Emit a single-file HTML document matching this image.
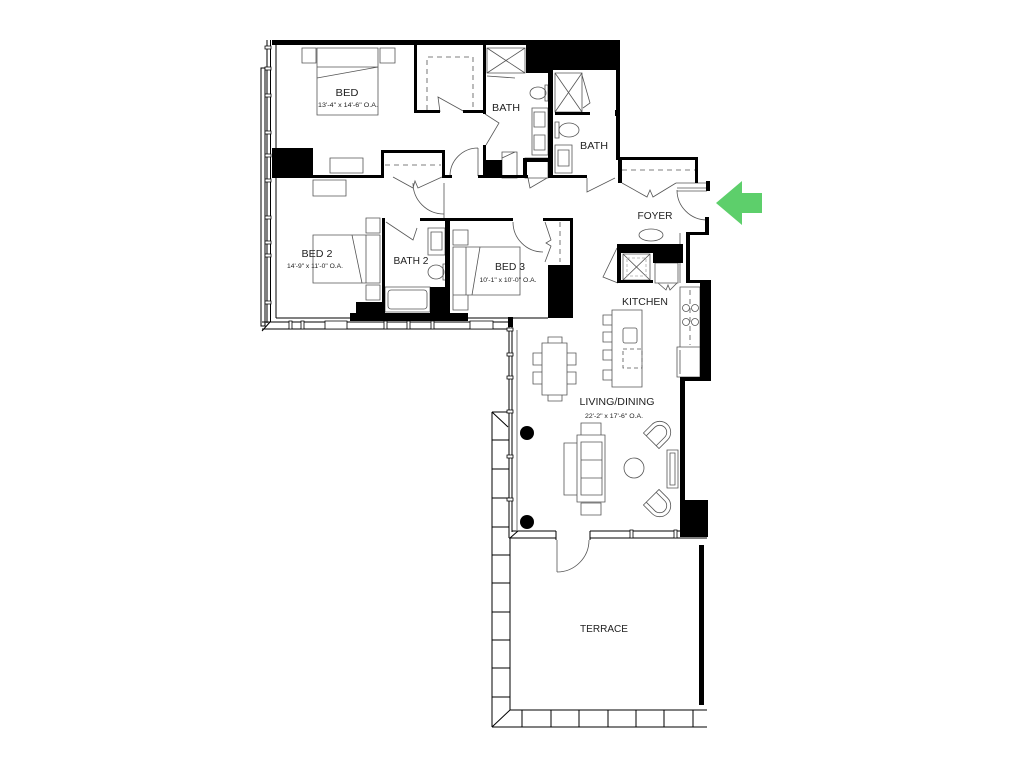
<!DOCTYPE html>
<html><head><meta charset="utf-8"><style>
html,body{margin:0;padding:0;background:#fff;}
svg{display:block;}
text{font-family:"Liberation Sans",sans-serif;fill:#222;text-anchor:middle;}
.l{font-size:10px;}
.d{font-size:6.5px;}
</style></head><body>
<svg width="1024" height="768" viewBox="0 0 1024 768" xmlns="http://www.w3.org/2000/svg">
<rect width="1024" height="768" fill="#fff"/>

<!-- furniture and fixtures -->
<g fill="none" stroke="#555" stroke-width="0.8">
<path d="M302 48h14v15h-14z M380 48h15v15h-15z M317 48h61v67h-61z M317 67h61 M317 78L378 67 M330 158h33v15h-33z
M313 180h33v16h-33z M313 235h67v48h-67z M366 218h14v15h-14z M366 285h14v15h-14z M352 235L362 283 M366 235v48
M453 247h67v48h-67z M453 230h15v15h-15z M453 295h15v15h-15z M480 247L472 295 M466 247v48"/>
<path d="M487 48h38v25h-38z M487 48L525 73 M525 48L487 73 M487 76L515 78 M545 85h3v16h-3z M532 108h16v47h-16z
M534 112h11v15h-11z M534 135h11v15h-11z M502 152h15v26h-15z M502 158L515 152 M525 158h23v20h-23z
M555 73h27v39h-27z M555 73L582 112 M582 73L555 112 M582 75L590 103L583 108 M555 122h4v16h-4z
M555 145h17v28h-17z M558 150h11v16h-11z M428 228h17v27h-17z M431 232h11v18h-11z M443 264h3v16h-3z
M385 287h45v25h-45z"/>
<ellipse cx="538" cy="93" rx="8" ry="6"/>
<ellipse cx="569" cy="130" rx="10" ry="7"/>
<ellipse cx="436" cy="272" rx="8" ry="7"/>
<rect x="388" y="290" width="39" height="19" rx="3"/>
<path stroke="#aaa" stroke-width="1.6" stroke-dasharray="5,4" d="M427 110V57H473V110 M385 165h56 M622 170h73 M560 222v40 M690 290v55"/>
<!-- doors -->
<path d="M478 148A28 28 0 0 0 450 176 M478 148v28 M413 183A31 31 0 0 0 444 214 M444 183v35
M513 222A30 30 0 0 0 543 252 M677 190A30 30 0 0 0 707 220 M677 188h30 M677 191h30 M676 183h31
M557 572A32 32 0 0 0 589 540 M557 540v32
M485 114L499 123L486 145 M440 112L438 97L465 112 M587 178v14L615 178 M528 178L530 188L547 178
M622 183L647 197L650 190L653 197L676 183 M393 177L413 188L415 181L418 188L442 177
M386 222L413 240L417 228 M545 222L551 240L546 243L551 246L545 262 M617 248L603 277L618 283
M658 283L666 290L668 285L670 290L677 283"/>
<!-- kitchen -->
<path d="M623 254h27v26h-27z M623 254L650 280 M650 254L623 280 M655 263h23v20h-23z M680 233v50
M680 287h20v60h-20z M677 347h23v30h-23z M680 350v24"/>
<rect x="627" y="258" width="19" height="18" stroke="#aaa" stroke-dasharray="3,2"/>
<circle cx="686" cy="308" r="3.5"/><circle cx="695" cy="308" r="3.5"/>
<circle cx="686" cy="322" r="3.5"/><circle cx="695" cy="322" r="3.5"/>
<ellipse cx="651" cy="235" rx="12" ry="6"/>
<path d="M612 310h30v77h-30z M603 315h9v10h-9z M603 332h9v10h-9z M603 350h9v10h-9z M603 370h9v10h-9z"/>
<rect x="623" y="328" width="14" height="15" rx="2"/>
<rect x="623" y="349" width="19" height="19" stroke-dasharray="4,3"/>
<!-- dining / living -->
<path d="M542 343h25v52h-25z M548 337h14v6h-14z M548 395h14v6h-14z M533 353h9v12h-9z M533 372h9v12h-9z
M567 353h9v12h-9z M567 372h9v12h-9z"/>
<path d="M564 443h13v52h-13z M577 435h28v67h-28z M581 442h21v53h-21z M581 460h21 M581 478h21
M581 423h20v12h-20z M581 503h20v12h-20z M667 450h11v38h-11z M670 453h5v32h-5z"/>
<circle cx="634" cy="468" r="10"/>
<g transform="translate(659,433) rotate(45)"><path d="M-11 11V-1A11 11 0 0 1 11 -1V11Z M-7 11V-1A7 7 0 0 1 7 -1V11"/></g>
<g transform="translate(659,505) rotate(135)"><path d="M-11 11V-1A11 11 0 0 1 11 -1V11Z M-7 11V-1A7 7 0 0 1 7 -1V11"/></g>
</g>

<!-- thin walls, windows, rails -->
<path fill="none" stroke="#000" stroke-width="1" d="M267 40V323 M270.5 40V322 M276 45V318 M261 68h4v258h-4z
M276 318H350 M262 322H512 M262 329H512 M262 331L270 322 M468 318H548
M509 322V538 M512 322V532 M492 412V727 M492 412H509 M492 412L508 427 M510 538V710
M510 710H707 M492 727H707 M492 727L510 710
M512 531H556 M509 538H556 M590 531H680 M590 538H707 M510 538L518 531 M556 531v9 M590 531v9
M492 440h17 M492 469h17 M492 498h17 M492 527h17 M492 555h18 M492 583h18 M492 612h18 M492 640h18 M492 668h18 M492 697h18
M522 710v17 M551 710v17 M579 710v17 M608 710v17 M636 710v17 M664 710v17 M693 710v17"/>
<line x1="517" y1="330" x2="517" y2="530" stroke="#777" stroke-width="1"/>
<path fill="#fff" stroke="#000" stroke-width="0.8" d="M265 46h6v3h-6z M265 67h6v3h-6z M265 94h6v3h-6z M265 131h6v3h-6z
M265 154h6v3h-6z M265 179h6v3h-6z M265 216h6v3h-6z M265 241h6v3h-6z M265 254h6v3h-6z M265 301h6v3h-6z
M289 321h3v8h-3z M301 321h3v8h-3z M325 321h22v8h-22z M384 321h3v8h-3z M407 321h3v8h-3z M431 321h3v8h-3z M470 321h23v8h-23z
M507 328h6v3h-6z M507 353h6v3h-6z M507 376h6v3h-6z M507 410h6v3h-6z M507 455h6v3h-6z M507 498h6v3h-6z
M630 530h3v8h-3z M674 530h3v8h-3z"/>

<!-- solid walls -->
<path fill="#000" d="M272 40h348v5h-348z M526 44h22v29h-22z M552 44h66v26h-66z M616 40h4v120h-4z M548 40h5v138h-5z
M483 44h3v70h-3z M483 145h3v33h-3z M485 160h17v18h-17z M553 175h34v3h-34z M478 175h50v3h-50z
M523 158h27v4h-27z M523 158h4v20h-4z M414 44h3v69h-3z M414 110h26v3h-26z M463 110h23v3h-23z
M272 148h41v30h-41z M313 175h68v3h-68z M381 150h64v3h-64z M381 150h3v28h-3z M442 150h3v28h-3z M445 175h7v3h-7z
M382 218h3v102h-3z M445 218h5v102h-5z M420 218h28v3h-28z M450 218h63v3h-63z M543 218h30v3h-30z
M570 218h3v47h-3z M548 265h25v53h-25z M356 302h26v19h-26z M430 287h18v26h-18z M350 313h118v8h-118z
M508 317h5v10h-5z M555 112h35v3h-35z M615 110h4v6h-4z M619 157h79v3h-79z M695 157h3v26h-3z
M618 157h4v26h-4z M706 181h4v10h-4z M617 244h66v9h-66z M653 244h30v19h-30z M617 244h4v39h-4z
M617 280h36v3h-36z M686 232h4v51h-4z M686 232h23v3h-23z M705 217h4v18h-4z M686 280h25v3h-25z
M700 280h11v101h-11z M680 377h31v4h-31z M680 377h5v123h-5z M680 500h28v37h-28z M699 545h5v160h-5z"/>
<circle cx="527" cy="433" r="7" fill="#000"/>
<circle cx="527" cy="522" r="7" fill="#000"/>

<!-- entry arrow -->
<polygon points="716,203 742,181 742,193 762,193 762,213 742,213 742,225" fill="#5dcf6b"/>

<!-- labels -->
<text class="l" x="347" y="96" textLength="23" lengthAdjust="spacingAndGlyphs">BED</text>
<text class="d" x="348" y="107" textLength="60" lengthAdjust="spacingAndGlyphs">13'-4" x 14'-6" O.A.</text>
<text class="l" x="506" y="111" textLength="28" lengthAdjust="spacingAndGlyphs">BATH</text>
<text class="l" x="594" y="149" textLength="28" lengthAdjust="spacingAndGlyphs">BATH</text>
<text class="l" x="655" y="219" textLength="35" lengthAdjust="spacingAndGlyphs">FOYER</text>
<text class="l" x="317" y="257" textLength="31" lengthAdjust="spacingAndGlyphs">BED 2</text>
<text class="d" x="315" y="268" textLength="56" lengthAdjust="spacingAndGlyphs">14'-9" x 11'-0" O.A.</text>
<text class="l" x="411" y="264" textLength="35" lengthAdjust="spacingAndGlyphs">BATH 2</text>
<text class="l" x="510" y="270" textLength="30" lengthAdjust="spacingAndGlyphs">BED 3</text>
<text class="d" x="508" y="282" textLength="57" lengthAdjust="spacingAndGlyphs">10'-1" x 10'-0" O.A.</text>
<text class="l" x="645" y="305" textLength="46" lengthAdjust="spacingAndGlyphs">KITCHEN</text>
<text class="l" x="617" y="405" textLength="75" lengthAdjust="spacingAndGlyphs">LIVING/DINING</text>
<text class="d" x="614" y="418" textLength="58" lengthAdjust="spacingAndGlyphs">22'-2" x 17'-6" O.A.</text>
<text class="l" x="604" y="632" textLength="48" lengthAdjust="spacingAndGlyphs">TERRACE</text>
</svg>
</body></html>
